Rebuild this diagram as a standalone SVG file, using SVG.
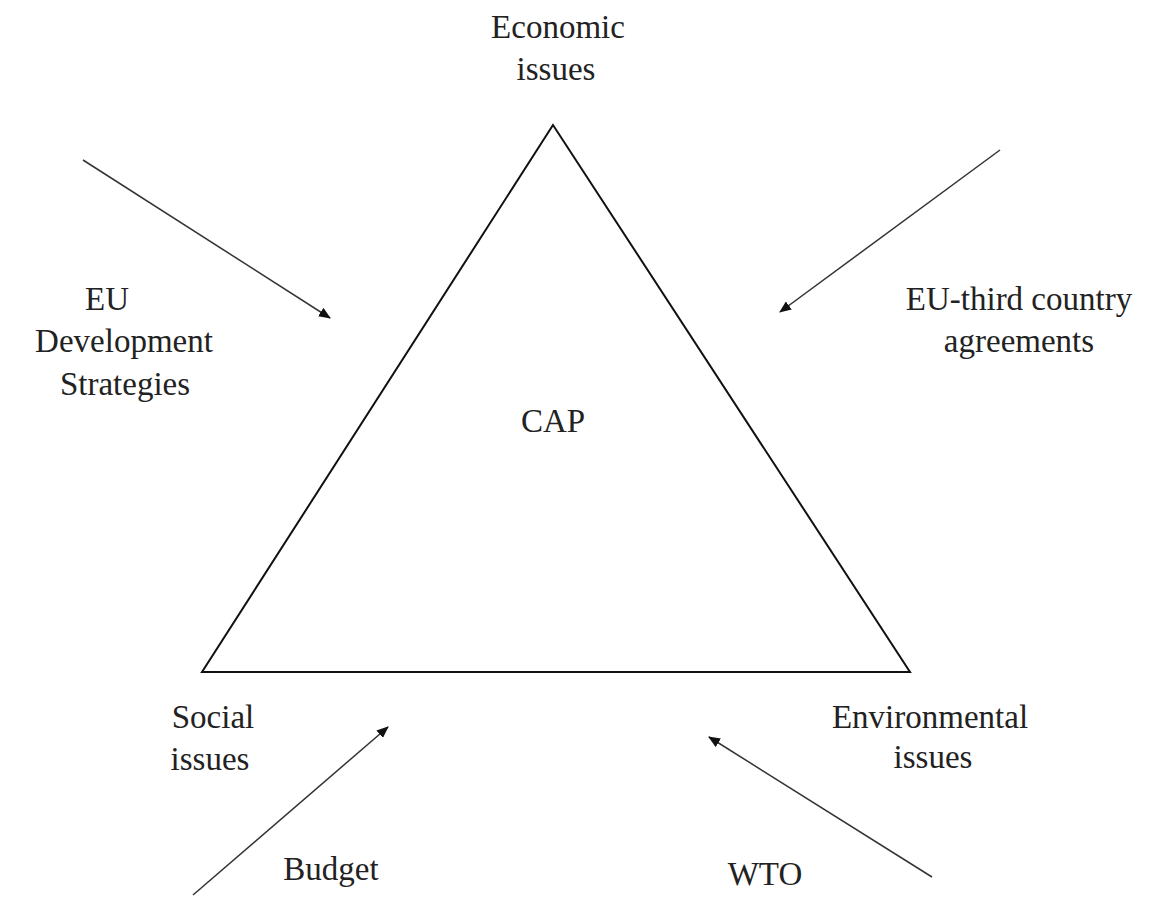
<svg xmlns="http://www.w3.org/2000/svg" width="1155" height="897" viewBox="0 0 1155 897">
<style>
text{font-family:"Liberation Serif","Times New Roman",serif;font-size:33px;fill:#222;text-anchor:middle}
.tri{fill:none;stroke:#111;stroke-width:2}
.arr{stroke:#333;stroke-width:1.5;fill:none;marker-end:url(#ah)}
</style>
<defs>
<marker id="ah" markerWidth="12" markerHeight="10" refX="11" refY="5" orient="auto" markerUnits="userSpaceOnUse">
<path d="M0,0 L12,5 L0,10 z" fill="#111"/>
</marker>
</defs>
<rect width="1155" height="897" fill="#fff"/>
<g id="cap">
<polygon class="tri" points="553,125 202,672 910,672"/>
<text x="553" y="432">CAP</text>
</g>
<g id="economic"><text x="558" y="38">Economic</text><text x="556" y="80">issues</text></g>
<g id="social"><text x="213" y="728">Social</text><text x="210" y="770">issues</text></g>
<g id="environmental"><text x="930" y="728">Environmental</text><text x="933" y="768">issues</text></g>
<g id="eudev"><text x="107" y="310">EU</text><text x="124" y="352">Development</text><text x="125" y="395">Strategies</text></g>
<g id="euthird"><text x="1019" y="310">EU-third country</text><text x="1019" y="352">agreements</text></g>
<g id="budget"><text x="331" y="880">Budget</text></g>
<g id="wto"><text x="765" y="885">WTO</text></g>
<g id="connectors">
<line class="arr" x1="83" y1="160" x2="330" y2="318"/>
<line class="arr" x1="1000" y1="150" x2="780" y2="312"/>
<line class="arr" x1="193" y1="895" x2="388" y2="727"/>
<line class="arr" x1="932" y1="877" x2="709" y2="737"/>
</g>
</svg>
